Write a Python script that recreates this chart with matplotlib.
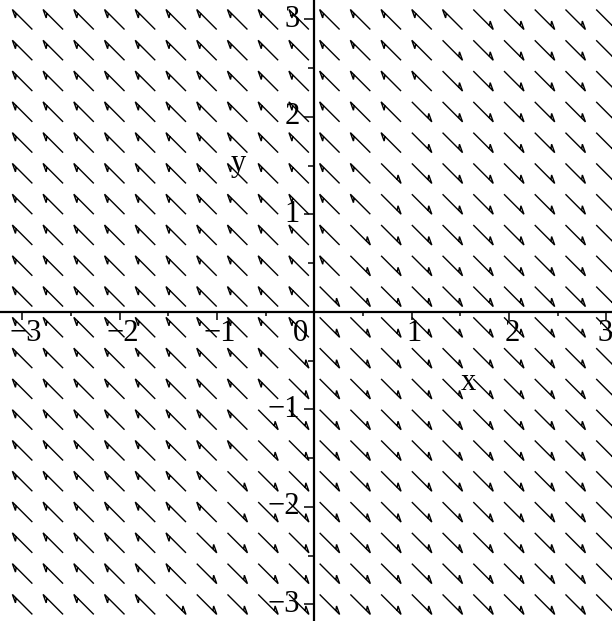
import numpy as np
import matplotlib
matplotlib.use("Agg")
import matplotlib.pyplot as plt
from matplotlib.collections import LineCollection
from matplotlib.ticker import MultipleLocator

# Sample points of the direction field
grid_x = np.linspace(-3, 3, 20)
grid_y = np.linspace(-3, 3, 20)

# Axis tick values and their labels
tick_vals = [-3, -2, -1, 0, 1, 2, 3]
tick_text = ["\u22123", "\u22122", "\u22121", "0", "1", "2", "3"]


def field(x, y):
    """Vector field: both components driven by 2x - y."""
    s = 2 * x - y
    return s, -s


fig = plt.figure(figsize=(6.12, 6.21), dpi=100)
ax = fig.add_axes([0, 0, 1, 1])
ax.set_xlim(-3.23, 3.06)
ax.set_ylim(-3.17, 3.20)

# Fixed-length arrows with a slim one-sided head
arrow_len = 0.29
barb_len = 0.092
barb_turn = np.radians(25)
segments = []
for x in grid_x:
    for y in grid_y:
        u, v = field(x, y)
        n = np.hypot(u, v)
        if n == 0:
            continue
        dx, dy = u / n, v / n
        tail = (x - dx * arrow_len / 2, y - dy * arrow_len / 2)
        tip = (x + dx * arrow_len / 2, y + dy * arrow_len / 2)
        ang = np.arctan2(-dy, -dx) - barb_turn
        barb = (tip[0] + barb_len * np.cos(ang), tip[1] + barb_len * np.sin(ang))
        back = (tip[0] - dx * 0.055, tip[1] - dy * 0.055)
        segments.append([tail, tip, barb, back])

ax.add_collection(LineCollection(segments, colors="black", linewidths=1.0,
                                 capstyle="butt", joinstyle="miter"))

# Axes through the origin
for side in ("top", "right"):
    ax.spines[side].set_visible(False)
ax.spines["left"].set_position(("data", 0))
ax.spines["bottom"].set_position(("data", 0))
for side in ("left", "bottom"):
    ax.spines[side].set_linewidth(1.6)
    ax.spines[side].set_zorder(3)

ax.xaxis.set_major_locator(MultipleLocator(1))
ax.yaxis.set_major_locator(MultipleLocator(1))
ax.xaxis.set_minor_locator(MultipleLocator(0.5))
ax.yaxis.set_minor_locator(MultipleLocator(0.5))
ax.tick_params(axis="both", which="both", direction="out", width=1.1,
               labelbottom=False, labelleft=False)
ax.tick_params(axis="x", which="major", length=6)
ax.tick_params(axis="x", which="minor", length=3)
ax.tick_params(axis="y", which="major", length=7)
ax.tick_params(axis="y", which="minor", length=4.5)

font = dict(family="Liberation Serif", size=22, color="black")

for v, t in zip(tick_vals, tick_text):
    if v == 0:
        xpos = -0.14
    elif v == 3:
        xpos = 2.99
    else:
        xpos = v + 0.03
    ax.text(xpos, -0.07, t, ha="center", va="top", **font)
    if v != 0:
        ax.text(-0.15, v, t, ha="right", va="center", **font)

ax.text(1.58, -0.72, "x", ha="center", va="center", **font)
ax.text(-0.78, 1.52, "y", ha="center", va="center", **font)

fig.savefig("out.png", dpi=100)
